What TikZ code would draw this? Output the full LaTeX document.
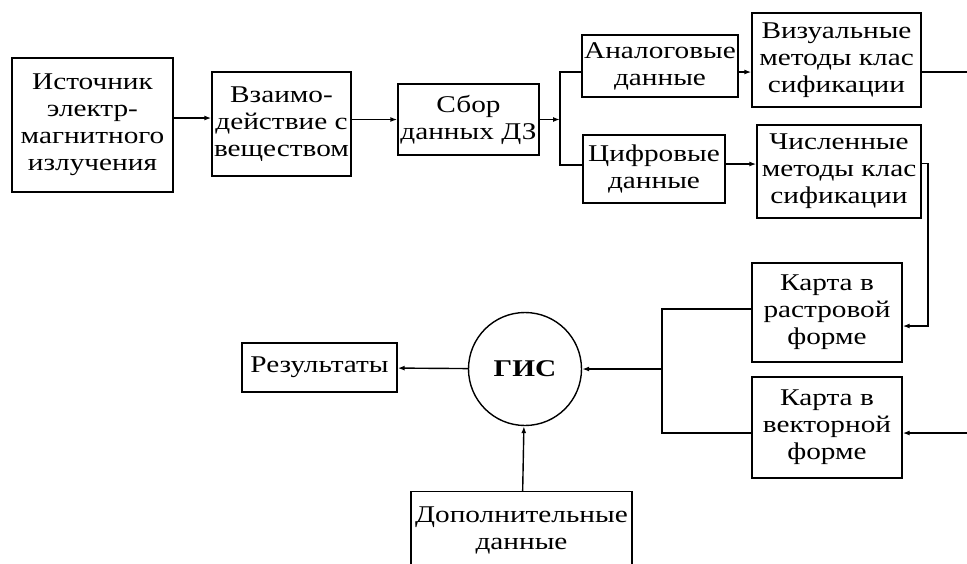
\documentclass[tikz,border=0pt]{standalone}
\usepackage{fontspec}
\setmainfont[FakeStretch=1.22]{Liberation Serif}
\usetikzlibrary{arrows.meta}

\tikzset{
  blok/.style={draw, line width=1.4pt, align=center, inner sep=2pt},
  svyaz/.style={line width=1.4pt, ->},
  liniya/.style={line width=1.4pt}
}

\begin{document}
\begin{tikzpicture}[x=1pt,y=-1pt,>={Latex[length=7pt,width=5pt]},
    font=\fontsize{24}{27}\selectfont]
  \useasboundingbox (0,0) rectangle (967,563);
  % verkhnii riad
  \node [blok, minimum width=161, minimum height=134] (istochnik) at (92.5,125)
    {Источник\\электр-\\магнитного\\излучения};
  \node [blok, minimum width=139, minimum height=104] (vzaimo) at (281.5,124)
    {Взаимо-\\действие с\\веществом};
  \node [blok, minimum width=141, minimum height=71] (sbor) at (468.5,119.5)
    {Сбор\\данных ДЗ};
  \node [blok, minimum width=154, minimum height=62] (analog) at (660,66)
    {Аналоговые\\данные};
  \node [blok, minimum width=142, minimum height=68] (cifra) at (654,169)
    {Цифровые\\данные};
  \node [blok, minimum width=169, minimum height=94] (vizual) at (836.5,60)
    {Визуальные\\методы клас\\сификации};
  \node [blok, minimum width=164, minimum height=93] (chislen) at (839,171.5)
    {Численные\\методы клас\\сификации};
  % karty
  \node [blok, minimum width=150, minimum height=99] (rastr) at (827,312.5)
    {Карта в\\растровой\\форме};
  \node [blok, minimum width=150, minimum height=101] (vektor) at (827,427.5)
    {Карта в\\векторной\\форме};
  % GIS
  \node [draw, circle, line width=1.4pt, minimum size=113, inner sep=0pt,
    font=\fontsize{24}{27}\selectfont\bfseries] (gis) at (525,369) {ГИС};
  \node [blok, minimum width=155, minimum height=49] (rezult) at (319.5,367.5)
    {Результаты};
  \node [blok, minimum width=221, anchor=north, text depth=60pt] (dop) at (521.5,491)
    {\rule{0pt}{29pt}Дополнительные\\данные};

  \coordinate (razv) at (560,119.5);
  \coordinate (sgib) at (928,0);
  \coordinate (sbor2) at (662,369);
  \coordinate (vizR) at (967,72);
  \coordinate (vekR) at (967,433);
  \coordinate (rastrV) at ([yshift=-13.5]rastr.east);

  \draw [svyaz] ([yshift=6]istochnik.east |- vzaimo.west) -- ([yshift=6]vzaimo.west);
  \draw [svyaz] (vzaimo.east |- sbor.west) -- (sbor.west);
  \draw [svyaz] (sbor.east) -- (razv);
  \draw [liniya] ([yshift=-6]analog.west) -| (razv) |- ([yshift=4]cifra.west);
  \draw [svyaz] ([yshift=-6]analog.east) -- ([yshift=-6]analog.east -| vizual.west);
  \draw [liniya] ([yshift=-12]vizual.east) -- (vizR);
  \draw [svyaz] ([yshift=5]cifra.east) -- ([yshift=5]cifra.east -| chislen.west);
  \draw [svyaz] ([yshift=8]chislen.east) -| (sgib |- rastrV) -- (rastrV);
  \draw [svyaz] (vekR) -- (vekR -| vektor.east);
  \draw [liniya] ([yshift=3.5]rastr.west) -| (sbor2) |- ([yshift=-5.5]vektor.west);
  \draw [svyaz] (sbor2) -- (gis);
  \draw [svyaz] (gis) -- (rezult);
  \draw [svyaz] (dop) -- (gis);
\end{tikzpicture}
\end{document}
